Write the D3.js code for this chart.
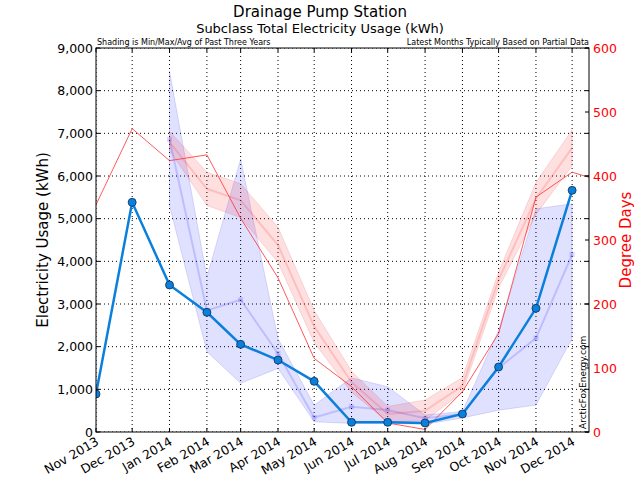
<!DOCTYPE html>
<html><head><meta charset="utf-8">
<script src="https://cdn.jsdelivr.net/npm/d3@7"></script>
<style>body{margin:0;background:#fff} text{font-family:"DejaVu Sans",sans-serif}</style>
</head><body><svg id="c" width="640" height="480"></svg>
<script>
// ---- data ----
const months = ["2013-11","2013-12","2014-01","2014-02","2014-03","2014-04","2014-05","2014-06","2014-07","2014-08","2014-09","2014-10","2014-11","2014-12"];
const usage = [890,5383,3445,2805,2055,1687,1188,227,227,211,422,1523,2899,5664];
const bandMonths = ["2014-01","2014-02","2014-03","2014-04","2014-05","2014-06","2014-07","2014-08","2014-09","2014-10","2014-11","2014-12"];
const usageMax = [8460,3630,6400,2190,630,1270,1060,400,480,2390,5230,5350];
const usageMin = [5300,1880,1140,1490,240,200,200,180,330,510,630,2190];
const usageAvg = [6860,2850,3100,1840,340,590,515,320,420,1500,2200,4160];
const ddMonths = ["2013-11","2013-12","2014-01","2014-02","2014-03","2014-04","2014-05","2014-06","2014-07","2014-08","2014-09","2014-10","2014-11","2014-12","2015-01"];
const degreeDays = [355,474,424,433,334,241,115,71,14,4,63,154,367,406,388];
const ddMax = [470,406,388,320,190,95,40,50,85,250,390,472];
const ddMin = [440,354,335,265,140,62,16,18,62,225,340,416];
const ddAvg = [453,380,362,292,165,78,28,33,72,238,365,444];
const usageTicks = [0,1000,2000,3000,4000,5000,6000,7000,8000,9000];
const ddTicks = [0,100,200,300,400,500,600];
const domainStart = "2013-11-01", domainEnd = "2014-12-15";

// ---- layout ----
const L = 96, R = 589, T = 48, B = 432;
const parse = d3.timeParse("%Y-%m");
const svg = d3.select("#c");
const x = d3.scaleTime().domain([new Date(domainStart+"T00:00:00"), new Date(domainEnd+"T00:00:00")]).range([L, R]);
const y = d3.scaleLinear().domain([0, 9000]).range([B, T]);
const y2 = d3.scaleLinear().domain([0, 600]).range([B, T]);

svg.append("defs").append("clipPath").attr("id","clip")
  .append("rect").attr("x",L).attr("y",T).attr("width",R-L).attr("height",B-T);

const g = svg.append("g").attr("clip-path","url(#clip)");

// gridlines
const monthDates = months.map(parse);
g.selectAll("line.vg").data(monthDates).enter().append("line")
  .attr("x1",d=>x(d)).attr("x2",d=>x(d)).attr("y1",T).attr("y2",B)
  .attr("stroke","#000").attr("stroke-width",1).attr("stroke-dasharray","1,3");
g.selectAll("line.hg").data(usageTicks).enter().append("line")
  .attr("x1",L).attr("x2",R).attr("y1",d=>y(d)).attr("y2",d=>y(d))
  .attr("stroke","#000").attr("stroke-width",1).attr("stroke-dasharray","1,3");

// blue band
const bd = bandMonths.map((m,i)=>({d:parse(m),lo:usageMin[i],hi:usageMax[i],avg:usageAvg[i]}));
g.append("path").datum(bd)
  .attr("d", d3.area().x(d=>x(d.d)).y0(d=>y(d.lo)).y1(d=>y(d.hi)))
  .attr("fill","rgba(0,0,255,0.12)").attr("stroke","rgba(0,0,200,0.12)");
g.append("path").datum(bd)
  .attr("d", d3.line().x(d=>x(d.d)).y(d=>y(d.avg)))
  .attr("fill","none").attr("stroke","rgba(0,0,255,0.15)").attr("stroke-width",2);
g.selectAll("rect.am").data(bd).enter().append("rect")
  .attr("x",d=>x(d.d)-2.5).attr("y",d=>y(d.avg)-2.5).attr("width",5).attr("height",5)
  .attr("fill","rgba(0,0,255,0.15)");

// red band
const rd = bandMonths.map((m,i)=>({d:parse(m),lo:ddMin[i],hi:ddMax[i],avg:ddAvg[i]}));
g.append("path").datum(rd)
  .attr("d", d3.area().x(d=>x(d.d)).y0(d=>y2(d.lo)).y1(d=>y2(d.hi)))
  .attr("fill","rgba(255,0,0,0.12)").attr("stroke","rgba(200,0,0,0.12)");
g.append("path").datum(rd)
  .attr("d", d3.line().x(d=>x(d.d)).y(d=>y2(d.avg)))
  .attr("fill","none").attr("stroke","rgba(255,0,0,0.15)").attr("stroke-width",2);

// degree days line
const dd = ddMonths.map((m,i)=>({d:parse(m),v:degreeDays[i]}));
g.append("path").datum(dd)
  .attr("d", d3.line().x(d=>x(d.d)).y(d=>y2(d.v)))
  .attr("fill","none").attr("stroke","#ff3030").attr("stroke-width",0.8);

// usage line
const ud = months.map((m,i)=>({d:parse(m),v:usage[i]}));
g.append("path").datum(ud)
  .attr("d", d3.line().x(d=>x(d.d)).y(d=>y(d.v)))
  .attr("fill","none").attr("stroke","#0a80dc").attr("stroke-width",2.5);
g.selectAll("circle").data(ud).enter().append("circle")
  .attr("cx",d=>x(d.d)).attr("cy",d=>y(d.v)).attr("r",4)
  .attr("fill","#0a80dc").attr("stroke","#0b2f55").attr("stroke-width",0.8);

// frame
svg.append("rect").attr("x",L).attr("y",T).attr("width",R-L).attr("height",B-T)
  .attr("fill","none").attr("stroke","#000").attr("stroke-width",1);

// axes
const fmt = d3.format(",");
const left = svg.append("g");
usageTicks.forEach(t=>{
  left.append("line").attr("x1",L).attr("x2",L+4).attr("y1",y(t)).attr("y2",y(t)).attr("stroke","#000");
  left.append("line").attr("x1",R).attr("x2",R-4).attr("y1",y(t)).attr("y2",y(t)).attr("stroke","#000");
  left.append("text").attr("x",L-3).attr("y",y(t)).attr("dy","0.36em").attr("text-anchor","end")
    .attr("font-size","12.5px").text(fmt(t));
});
ddTicks.forEach(t=>{
  svg.append("line").attr("x1",R).attr("x2",R-4).attr("y1",y2(t)).attr("y2",y2(t)).attr("stroke","#000");
  svg.append("text").attr("x",R+4).attr("y",y2(t)).attr("dy","0.36em").attr("text-anchor","start")
    .attr("font-size","12.5px").attr("fill","#ff0000").text(t);
});
const xfmt = d3.timeFormat("%b %Y");
monthDates.forEach(d=>{
  const px = x(d);
  svg.append("line").attr("x1",px).attr("x2",px).attr("y1",B).attr("y2",B-4).attr("stroke","#000");
  svg.append("line").attr("x1",px).attr("x2",px).attr("y1",T).attr("y2",T+4).attr("stroke","#000");
  svg.append("text").attr("transform",`translate(${px-1},${B+4}) rotate(-30)`)
    .attr("text-anchor","end").attr("dy","0.75em").attr("font-size","12.5px").text(xfmt(d));
});

// titles
svg.append("text").attr("x",320).attr("y",17).attr("text-anchor","middle").attr("font-size","15px").text("Drainage Pump Station");
svg.append("text").attr("x",320).attr("y",33).attr("text-anchor","middle").attr("font-size","13px").text("Subclass Total Electricity Usage (kWh)");
svg.append("text").attr("x",L+1).attr("y",T-3).attr("font-size","8px").text("Shading is Min/Max/Avg of Past Three Years");
svg.append("text").attr("x",R).attr("y",T-3).attr("text-anchor","end").attr("font-size","8px").text("Latest Months Typically Based on Partial Data");
svg.append("text").attr("transform",`translate(48,${(T+B)/2}) rotate(-90)`).attr("text-anchor","middle").attr("font-size","15px").text("Electricity Usage (kWh)");
svg.append("text").attr("transform",`translate(631,${(T+B)/2}) rotate(-90)`).attr("text-anchor","middle").attr("font-size","15px").attr("fill","#ff0000").text("Degree Days");
svg.append("text").attr("transform",`translate(586,${B-3}) rotate(-90)`).attr("text-anchor","start").attr("font-size","9px").text("ArcticFoxEnergy.com");
</script></body></html>
